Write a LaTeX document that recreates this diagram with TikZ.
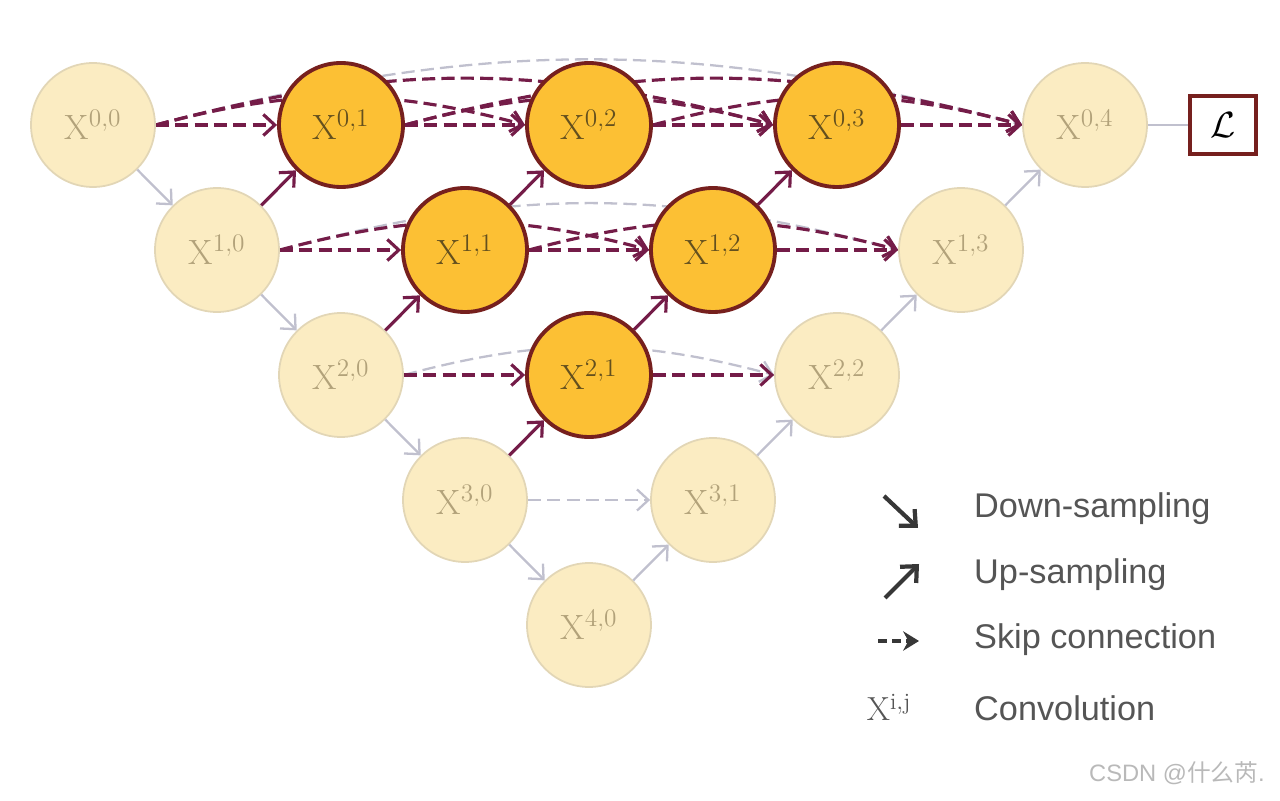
\documentclass[tikz,border=0pt]{standalone}
\usepackage{fontspec}
\setsansfont{Liberation Sans}
\newfontfamily\cjk{Noto Sans CJK SC}
\usetikzlibrary{arrows.meta,backgrounds}

\begin{document}
\begin{tikzpicture}[x=1cm,y=1cm,
		conv/.style={circle, minimum size=2.48cm, inner sep=0pt, fill=nodebg, draw=nodeline, line width=1pt, text=nodetext, font=\fontsize{20}{24}\selectfont},
		convact/.style={conv, fill=active, draw=activeline, line width=2.2pt, text=activetext},
		upline/.style={draw=arrow, line width=1.8pt, -{Straight Barb[length=6.5pt,width=12pt]}},
		faintline/.style={draw=faint, line width=1.3pt, -{Straight Barb[length=6.5pt,width=12pt]}},
		skipline/.style={upline, dash pattern=on 7.5pt off 3.5pt},
		skipfaint/.style={faintline, dash pattern=on 7.5pt off 3.5pt},
		legarrow/.style={draw=legend, line width=2.4pt},
		legtext/.style={anchor=west, text=legendgrey, font=\sffamily\fontsize{19.5}{22}\selectfont}]
	
	% Farben
	\definecolor{nodebg}{RGB}{251,236,194}
	\definecolor{nodeline}{RGB}{226,214,182}
	\definecolor{nodetext}{RGB}{178,162,122}
	\definecolor{active}{RGB}{252,192,52}
	\definecolor{activeline}{RGB}{118,32,30}
	\definecolor{activetext}{RGB}{100,80,30}
	\definecolor{arrow}{RGB}{116,28,72}
	\definecolor{faint}{RGB}{192,192,206}
	\definecolor{legend}{RGB}{55,55,55}
	\definecolor{legendgrey}{RGB}{85,85,85}
	\definecolor{mark}{RGB}{185,185,185}
	
	\useasboundingbox (0,0) rectangle (25.6,16.02);
	
	% Knoten
	\foreach \i/\j in {0/0,1/0,2/0,3/0,4/0,3/1,2/2,1/3,0/4}
	{\node[conv] (X\i\j) at ({1.86+2.48*(\i+2*\j)},{13.52-2.5*\i}) {$\mathrm{X}^{\i,\j}$};}
	\foreach \i/\j in {0/1,0/2,0/3,1/1,1/2,2/1}
	{\node[convact] (X\i\j) at ({1.86+2.48*(\i+2*\j)},{13.52-2.5*\i}) {$\mathrm{X}^{\i,\j}$};}
	
	% Verlust
	\node[draw=activeline, line width=2pt, minimum width=1.32cm, minimum height=1.16cm, font=\fontsize{20}{24}\selectfont] (L) at (24.46,13.52) {$\mathcal{L}$};
	\draw[faint, line width=1.2pt] (X04) -- (L);
	
	% Lange Skip-Verbindungen (hinter den Knoten)
	\begin{scope}[on background layer]
		\draw[skipfaint] (X00.east) to[out=15,in=165] (X04.west);
		\draw[skipfaint] (X10.east) to[out=15,in=165] (X13.west);
		\draw[skipfaint] (X20.east) to[out=15,in=165] (X22.west);
		\foreach \a/\b in {0/3,1/4,0/2,1/3,2/4}
		{\draw[skipline] (X0\a.east) to[out=15,in=165] (X0\b.west);}
		\foreach \a/\b in {0/2,1/3}
		{\draw[skipline] (X1\a.east) to[out=15,in=165] (X1\b.west);}
	\end{scope}
	
	% Down-Sampling
	\foreach \a/\b in {00/10,10/20,20/30,30/40}
	{\draw[faintline] (X\a) -- (X\b);}
	
	% Up-Sampling
	\foreach \a/\b in {10/01,11/02,12/03,20/11,21/12,30/21}
	{\draw[upline] (X\a) -- (X\b);}
	\foreach \a/\b in {40/31,31/22,22/13,13/04}
	{\draw[faintline] (X\a) -- (X\b);}
	
	% Skip-Verbindungen
	\foreach \a/\b in {00/01,01/02,02/03,03/04,10/11,11/12,12/13,20/21,21/22}
	{\draw[skipline] (X\a) -- (X\b);}
	\draw[skipfaint] (X30) -- (X31);
	
	% Legende
	\coordinate (d1) at (17.68,6.10);
	\coordinate (d2) at (18.36,5.46);
	\coordinate (u1) at (17.70,4.06);
	\coordinate (u2) at (18.38,4.74);
	\coordinate (s1) at (17.56,3.20);
	\coordinate (s2) at (18.38,3.20);
	\draw[legarrow, -{Straight Barb[length=7pt,width=13pt]}] (d1) -- (d2);
	\draw[legarrow, -{Straight Barb[length=7pt,width=13pt]}] (u1) -- (u2);
	\draw[legarrow, dash pattern=on 5pt off 3pt, -{Stealth[length=9pt,width=11pt]}] (s1) -- (s2);
	\node[text=legendgrey, font=\fontsize{19}{22}\selectfont] (xij) at (17.78,1.88) {$\mathrm{X}^{\mathrm{i,j}}$};
	\node[legtext] (t1) at (19.36,5.84) {Down-sampling};
	\node[legtext] (t2) at (19.36,4.52) {Up-sampling};
	\node[legtext] (t3) at (19.36,3.22) {Skip connection};
	\node[legtext] (t4) at (19.36,1.86) {Convolution};
	
	% Wasserzeichen
	\node[anchor=east, text=mark, font=\sffamily\fontsize{13.5}{16}\selectfont] (wm) at (25.42,0.56) {CSDN @{\cjk 什么芮}.};
	
\end{tikzpicture}
\end{document}
